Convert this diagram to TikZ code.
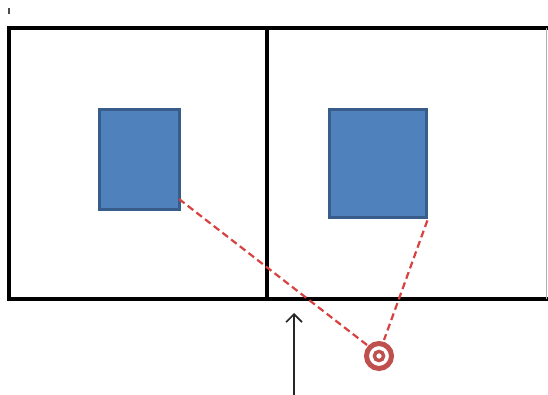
\documentclass[tikz,border=0pt]{standalone}
\usetikzlibrary{arrows.meta}
\definecolor{boxfill}{HTML}{4F81BD}
\definecolor{boxline}{HTML}{385D8A}
\definecolor{tred}{HTML}{C0504D}
\definecolor{dred}{HTML}{D8413F}
\tikzset{
  wall/.style={line width=4.5pt, black},
  bluebox/.style={draw=boxline, fill=boxfill, line width=3.4pt},
  sight/.style={dred, line width=2.2pt, dash pattern=on 7pt off 4pt},
}
\begin{document}
\begin{tikzpicture}[x=1pt,y=-1pt]
\useasboundingbox[fill=white] (0,0) rectangle (548,395);
% walls
\draw[wall] (548,28) -- (9,28) -- (9,299) -- (548,299);
\draw[wall] (267,28) -- (267,299);
\draw[gray!60, line width=0.8pt] (546.5,28) -- (546.5,299);
\draw[black!70, line width=1.8pt] (9,8) -- (9,14);
% boxes
\node[bluebox, minimum width=80pt, minimum height=100pt, inner sep=0pt, anchor=north west] (b1) at (98,108) {};
\node[bluebox, minimum width=97pt, minimum height=108pt, inner sep=0pt, anchor=north west] (b2) at (328,108) {};
% target
\coordinate (t) at (379,356);
\draw[tred, line width=5pt] (t) circle (12.5);
\draw[tred, line width=3.4pt] (t) circle (4.6);
\coordinate (t1) at (367,345);
\coordinate (t2) at (384,340);
\draw[sight] (179,199) -- (t1);
\draw[sight] (b2.south east) ++(-1,1) -- (t2);
% arrow
\coordinate (a0) at (294,395);
\coordinate (a1) at (294,313);
\draw[black!85, line width=1.6pt, -{Straight Barb[length=8pt,width=16pt,line width=1.6pt]}] (a0) -- (a1);
\end{tikzpicture}
\end{document}
